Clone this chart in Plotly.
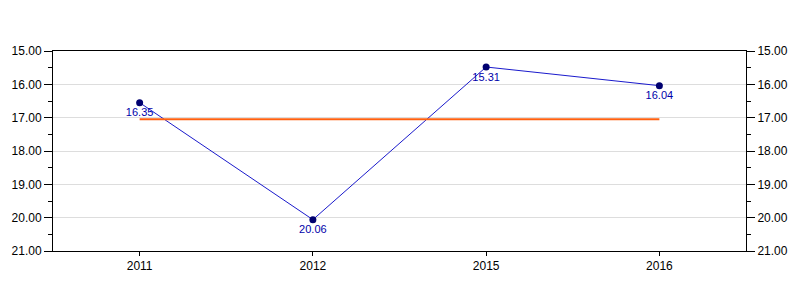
import plotly.graph_objects as go

categories = ["2011", "2012", "2015", "2016"]
values = [16.55, 20.06, 15.48, 16.04]
label_texts = ["16.35", "20.06", "15.31", "16.04"]
average = [17.05]
y_ticks = [15, 16, 17, 18, 19, 20, 21]

fig = go.Figure()

fig.add_trace(go.Scatter(
    x=categories, y=values, mode="lines+markers+text",
    line=dict(color="#1a1acc", width=1),
    marker=dict(color="#000070", size=7),
    text=label_texts, textposition="bottom center",
    textfont=dict(family="Liberation Sans, Arial, sans-serif", size=11, color="#0000aa"),
    showlegend=False,
))

fig.add_trace(go.Scatter(
    x=[categories[0], categories[-1]], y=[average[0], average[0]],
    mode="lines", line=dict(color="#ff6010", width=2),
    hoverinfo="skip", showlegend=False,
))

fig.add_trace(go.Scatter(
    x=categories, y=values, yaxis="y2", mode="markers",
    marker=dict(opacity=0), hoverinfo="skip", showlegend=False,
))

yax = dict(
    range=[21, 15], tickvals=y_ticks, tickformat=".2f",
    ticks="outside", ticklen=8, tickcolor="black", tickwidth=1,
    showline=True, linecolor="black", linewidth=1,
    showgrid=True, gridcolor="#dddddd", gridwidth=1,
    zeroline=False,
    tickfont=dict(family="Liberation Sans, Arial, sans-serif", size=12, color="black"),
    minor=dict(ticks="outside", ticklen=4, dtick=0.5, tick0=15, tickcolor="black", showgrid=False),
)

fig.update_layout(
    width=800, height=300,
    margin=dict(l=50, r=50, t=51, b=49),
    paper_bgcolor="white", plot_bgcolor="white",
    xaxis=dict(
        type="category", range=[-0.5, 3.5],
        categoryorder="array", categoryarray=categories,
        showline=True, linecolor="black", linewidth=1, mirror=True,
        ticks="outside", ticklen=4, tickcolor="black",
        showgrid=False, zeroline=False,
        tickfont=dict(family="Liberation Sans, Arial, sans-serif", size=12, color="black"),
    ),
    yaxis=dict(**yax, side="left"),
    yaxis2=dict(**yax, side="right", overlaying="y"),
)
fig.update_layout(yaxis2=dict(showgrid=False))

fig.write_html("out.html")
